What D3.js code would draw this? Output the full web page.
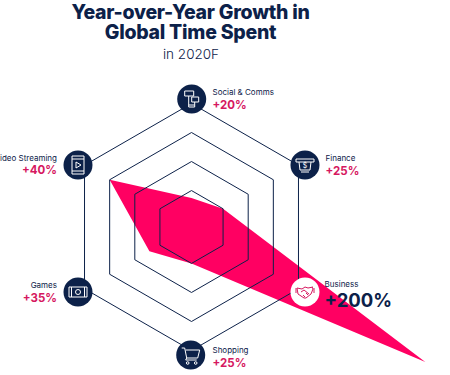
<!DOCTYPE html>
<html><head><meta charset="utf-8">
<script src="https://cdn.jsdelivr.net/npm/d3@7"></script>
<style>html,body{margin:0;padding:0;background:#fff;overflow:hidden}svg{display:block}text{font-family:Inter,"Open Sans",sans-serif}</style>
</head><body><div id="c"></div>
<script>
const categories = ["Social & Comms","Finance","Business","Shopping","Games","Video Streaming"];
const growthLabels = ["+20%","+25%","+200%","+25%","+35%","+40%"];
const plottedValues = [21.5,27,200,27,36,70];
const ringValues = [27,48.5,70,91.5];
const titleLines = ["Year-over-Year Growth in","Global Time Spent"];
const subtitle = "in 2020F";
const navy="#0c2149", pink="#ff0062", labelPink="#d6185f";

const W=450,H=375,cx=191.5,cy=227;
const svg=d3.select("#c").append("svg").attr("width",W).attr("height",H);
const r=d3.scaleLinear().domain([0,200]).range([0,270]);
const angle=d3.scalePoint().domain(categories).range([0,300]);
const rad=d=>angle(d)*Math.PI/180;
const pt=(c,v)=>[cx+r(v)*Math.sin(rad(c)),cy-r(v)*Math.cos(rad(c))];

titleLines.forEach((t,i)=>svg.append("text").attr("x",190.5).attr("y",18.5+i*20)
  .attr("text-anchor","middle").attr("fill",navy).attr("font-size",19.5).attr("font-weight",800)
  .attr("letter-spacing",-0.25).text(t));
svg.append("text").attr("x",191).attr("y",59).attr("text-anchor","middle").attr("fill",navy)
  .attr("font-size",13.5).attr("font-weight",300).text(subtitle);

svg.append("path").attr("fill",pink)
  .attr("d",d3.line()(categories.map((c,i)=>pt(c,plottedValues[i])))+"Z");

svg.selectAll("path.ring").data(ringValues).join("path").attr("class","ring")
  .attr("fill","none").attr("stroke",navy).attr("stroke-width",1)
  .attr("d",v=>d3.line()(categories.map(c=>pt(c,v)))+"Z");

const iconPos=[[191.7,99],[305,165],[305,292],[190.7,355],[78,292],[78,165]];
const labelPos=[
 {x:212.5,a:"start",y1:95,y2:108.5,s:11.5},
 {x:325.5,a:"start",y1:161,y2:175,s:11.5},
 {x:324.5,a:"start",y1:287,y2:306.5,s:18.5},
 {x:212.5,a:"start",y1:353,y2:367,s:11.5},
 {x:57,a:"end",y1:288,y2:302,s:11.5},
 {x:57,a:"end",y1:160.5,y2:174,s:11.5}];

const icons=[
 g=>{g.append("path").attr("d","M-7,-8h9v5h-9zM-3,-3v11h6v-5M-3,6h6M0,-2h7v5h-7z");},
 g=>{g.append("path").attr("d","M-9,-6h18v3h-18zM-6,-3l1,8h10l1,-8M-4,7h8");g.append("text").attr("y",3).attr("text-anchor","middle").attr("font-size",7).attr("fill","#fff").attr("stroke","none").text("$");},
 g=>{g.append("path").attr("d","M-8,-4l5,1 3,-2 3,1 5,-1M-8,-4l1,6 6,4 2,0 5,-4 2,-5 -1,-2M-4,0l3,-2 5,4M-2,3l2,2M1,1l2,2M-9,-4v5M9,-4v5");},
 g=>{g.append("path").attr("d","M-9,-7h3l2,10h11l2,-8h-14M-4,3l-1,2h11");g.append("circle").attr("cx",-3).attr("cy",8).attr("r",1.3);g.append("circle").attr("cx",5).attr("cy",8).attr("r",1.3);},
 g=>{g.append("path").attr("d","M-9,-5h18v10h-18zM-6.5,-5v10M6.5,-5v10");g.append("circle").attr("r",2.5);},
 g=>{g.append("path").attr("d","M-6,-9h12v18h-12zM-6,-6h12M-6,6h12M-2,-3l5,3 -5,3z");}
];

categories.forEach((c,i)=>{
  const [x,y]=iconPos[i], hi=i===2, L=labelPos[i];
  svg.append("circle").attr("cx",x).attr("cy",y).attr("r",14.5).attr("fill",hi?"#fff":navy);
  const g=svg.append("g").attr("transform",`translate(${x},${y})`).attr("fill","none")
    .attr("stroke",hi?labelPink:"#fff").attr("stroke-width",1);
  icons[i](g);
  svg.append("text").attr("x",L.x).attr("y",L.y1).attr("text-anchor",L.a).attr("fill",navy)
    .attr("font-size",8).attr("font-weight",400).text(c);
  svg.append("text").attr("x",L.x).attr("y",L.y2).attr("text-anchor",L.a).attr("fill",hi?navy:labelPink)
    .attr("font-size",L.s).attr("font-weight",700).text(growthLabels[i]);
});
</script></body></html>
